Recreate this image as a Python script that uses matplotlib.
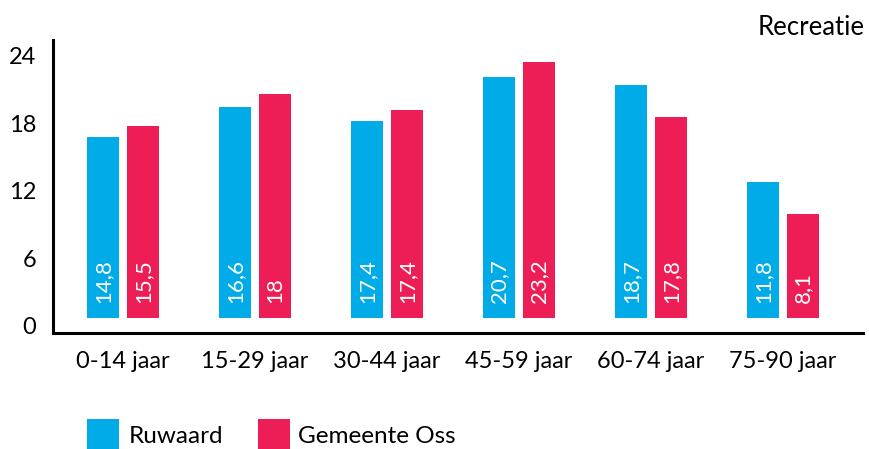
import matplotlib
matplotlib.use("Agg")
import matplotlib.pyplot as plt
from matplotlib.patches import Rectangle
import numpy as np

plt.rcParams['font.family'] = ['Lato', 'DejaVu Sans']

categories = ["0-14 jaar", "15-29 jaar", "30-44 jaar", "45-59 jaar", "60-74 jaar", "75-90 jaar"]
# printed values (labels inside bars)
ruwaard_labels = ["14,8", "16,6", "17,4", "20,7", "18,7", "11,8"]
oss_labels = ["15,5", "18", "17,4", "23,2", "17,8", "8,1"]
# bar tops as drawn in the picture (axis units)
ruwaard_tops = [16.8, 19.4, 18.2, 22.1, 21.4, 12.8]
oss_tops = [17.7, 20.6, 19.2, 23.4, 18.5, 9.9]
yticks = [0, 6, 12, 18, 24]
series_names = ["Ruwaard", "Gemeente Oss"]

blue = "#00abe7"
red = "#ed1e56"

W, H = 869, 449
fig = plt.figure(figsize=(W / 100, H / 100), dpi=100)
ax = fig.add_axes([52.7 / W, (H - 333) / H, (863 - 52.7) / W, (333 - 40) / H])

base = 0.67
bw = 32 / 132
off = 20 / 132
x = np.arange(len(categories))
ax.bar(x - off, np.array(ruwaard_tops) - base, bottom=base, width=bw, color=blue)
ax.bar(x + off, np.array(oss_tops) - base, bottom=base, width=bw, color=red)

for xi, lab in zip(x - off, ruwaard_labels):
    ax.text(xi, 2.0, lab, rotation=90, ha='center', va='bottom', color='white',
            fontsize=16)
for xi, lab in zip(x + off, oss_labels):
    ax.text(xi, 2.0, lab, rotation=90, ha='center', va='bottom', color='white',
            fontsize=16)

ax.set_xlim(-0.533, 5.606)
ax.set_ylim(-0.667, 25.38)
ax.set_yticks(yticks)
ax.set_yticklabels([str(t) for t in yticks])
ax.set_xticks(x)
ax.set_xticklabels(categories)
ax.tick_params(axis='y', length=0, pad=12, labelsize=17)
ax.tick_params(axis='x', length=0, pad=13, labelsize=17)
for s in ['top', 'right']:
    ax.spines[s].set_visible(False)
for s in ['left', 'bottom']:
    ax.spines[s].set_linewidth(2.2)
    ax.spines[s].set_color('black')

fig.text(865 / W, (H - 35) / H, "Recreatie", ha='right', va='baseline', fontsize=18.5)

# legend
for (x0, col, name, tx) in [(87, blue, series_names[0], 129), (258, red, series_names[1], 298)]:
    fig.add_artist(Rectangle((x0 / W, 0), 32 / W, 30 / H, transform=fig.transFigure,
                             facecolor=col, edgecolor='none'))
    fig.text(tx / W, (H - 443) / H, name, ha='left', va='baseline', fontsize=17.5)

fig.savefig("out.png", dpi=100)
